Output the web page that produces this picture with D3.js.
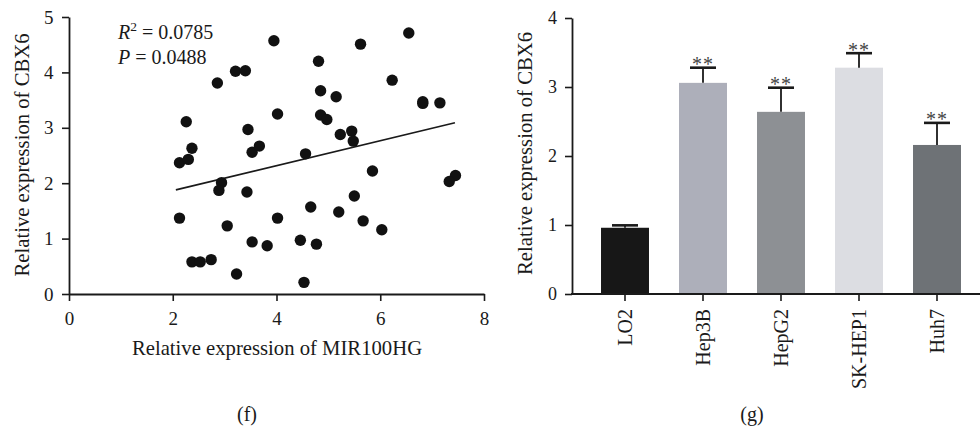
<!DOCTYPE html>
<html>
<head>
<meta charset="utf-8">
<script src="https://cdn.jsdelivr.net/npm/d3@7"></script>
<style>
  body { margin: 0; background: #fff; }
  svg { display: block; font-family: "Liberation Serif", "Times New Roman", serif; }
</style>
</head>
<body>
<svg id="chart" width="980" height="430"></svg>
<script>
// ---------- Data: panel (f) scatter ----------
const scatterX = [2.13, 2.30, 2.37, 2.26, 2.86, 3.21, 3.40, 3.45, 3.53, 3.67,
                  3.95, 4.81, 5.62, 6.55, 6.23, 4.85, 5.15, 6.82, 6.82, 7.15,
                  4.02, 4.85, 4.97, 5.23, 5.45, 5.48, 4.56, 5.85, 2.94, 2.89,
                  3.43, 2.13, 3.05, 3.53, 2.37, 2.53, 2.74, 3.23, 7.45, 7.33,
                  5.50, 4.66, 5.20, 4.02, 5.67, 6.03, 3.82, 4.46, 4.77, 4.53];
const scatterY = [2.37, 2.43, 2.63, 3.11, 3.81, 4.02, 4.03, 2.97, 2.56, 2.67,
                  4.57, 4.20, 4.51, 4.71, 3.86, 3.67, 3.56, 3.47, 3.44, 3.45,
                  3.25, 3.23, 3.15, 2.88, 2.94, 2.76, 2.53, 2.22, 2.01, 1.87,
                  1.84, 1.37, 1.23, 0.94, 0.58, 0.58, 0.62, 0.36, 2.14, 2.03,
                  1.77, 1.57, 1.48, 1.37, 1.32, 1.16, 0.87, 0.97, 0.90, 0.21];
const fitLineX = [2.06, 7.44];
const fitLineY = [1.88, 3.09];
const scatterXTicks = [0, 2, 4, 6, 8];
const scatterYTicks = [0, 1, 2, 3, 4, 5];
const statR2 = "0.0785";
const statP = "0.0488";

// ---------- Data: panel (g) bars ----------
const cells = ["LO2", "Hep3B", "HepG2", "SK-HEP1", "Huh7"];
const cellMeans = [0.96, 3.06, 2.64, 3.28, 2.16];
const cellErrTop = [0.995, 3.28, 2.99, 3.49, 2.48];
const cellSig = ["", "**", "**", "**", "**"];
const cellColors = ["#171717", "#adafba", "#8d9094", "#dcdde2", "#6e7276"];
const barYTicks = [0, 1, 2, 3, 4];

const svg = d3.select("#chart");
const ink = "#1a1a1a";
const labelSize = 20.7;

function styleAxis(g, fs) {
  g.select(".domain").attr("stroke", ink).attr("stroke-width", 1.8);
  g.selectAll(".tick line").attr("stroke", ink).attr("stroke-width", 1.6);
  g.selectAll(".tick text").attr("fill", ink).style("font-size", fs + "px")
    .style("font-family", '"Liberation Serif", "Times New Roman", serif');
}

// ================= Panel (f) =================
const sx = d3.scaleLinear().domain([0, 8]).range([69, 484]);
const sy = d3.scaleLinear().domain([0, 5]).range([294, 17]);

const fx = svg.append("g").attr("transform", "translate(0,294)")
  .call(d3.axisBottom(sx).tickValues(scatterXTicks).tickFormat(d3.format("d"))
    .tickSize(7).tickSizeOuter(0).tickPadding(10.5));
styleAxis(fx, 19);

const fy = svg.append("g").attr("transform", "translate(69,0)")
  .call(d3.axisLeft(sy).tickValues(scatterYTicks).tickFormat(d3.format("d"))
    .tickSize(7).tickSizeOuter(0).tickPadding(8.5));
styleAxis(fy, 19);

svg.append("line")
  .attr("x1", sx(fitLineX[0])).attr("y1", sy(fitLineY[0]))
  .attr("x2", sx(fitLineX[1])).attr("y2", sy(fitLineY[1]))
  .attr("stroke", ink).attr("stroke-width", 1.6);

svg.append("g").selectAll("circle")
  .data(scatterX.map((x, i) => [x, scatterY[i]]))
  .join("circle")
  .attr("cx", d => sx(d[0])).attr("cy", d => sy(d[1]))
  .attr("r", 5.7).attr("fill", "#111");

const r2 = svg.append("text").attr("x", 118).attr("y", 38.5)
  .attr("fill", ink).style("font-size", "20px");
r2.append("tspan").style("font-style", "italic").text("R");
r2.append("tspan").attr("dy", -8).style("font-size", "13.5px").text("2");
r2.append("tspan").attr("dy", 8).text(" = " + statR2);

const pt = svg.append("text").attr("x", 118).attr("y", 64)
  .attr("fill", ink).style("font-size", "20px");
pt.append("tspan").style("font-style", "italic").text("P");
pt.append("tspan").text(" = " + statP);

svg.append("text").attr("x", 277).attr("y", 355).attr("text-anchor", "middle")
  .attr("fill", ink).style("font-size", labelSize + "px")
  .text("Relative expression of MIR100HG");

svg.append("text").attr("transform", "translate(28.5,155) rotate(-90)")
  .attr("text-anchor", "middle").attr("fill", ink)
  .style("font-size", labelSize + "px").text("Relative expression of CBX6");

svg.append("text").attr("x", 247).attr("y", 421).attr("text-anchor", "middle")
  .attr("fill", ink).style("font-size", "20px").text("(f)");

// ================= Panel (g) =================
const bx = d3.scaleBand().domain(cells).range([586, 976])
  .paddingInner(0.385).paddingOuter(0.1925);
const by = d3.scaleLinear().domain([0, 4]).range([294, 18]);

// bars
svg.append("g").selectAll("rect")
  .data(cells.map((c, i) => ({ c, v: cellMeans[i], col: cellColors[i] })))
  .join("rect")
  .attr("x", d => bx(d.c)).attr("width", bx.bandwidth())
  .attr("y", d => by(d.v)).attr("height", d => by(0) - by(d.v))
  .attr("fill", d => d.col);

// error bars
const eb = svg.append("g");
cells.forEach((c, i) => {
  const cx = bx(c) + bx.bandwidth() / 2;
  eb.append("line").attr("x1", cx).attr("x2", cx)
    .attr("y1", by(cellMeans[i])).attr("y2", by(cellErrTop[i]))
    .attr("stroke", ink).attr("stroke-width", 1.8);
  eb.append("line").attr("x1", cx - 13).attr("x2", cx + 13)
    .attr("y1", by(cellErrTop[i])).attr("y2", by(cellErrTop[i]))
    .attr("stroke", ink).attr("stroke-width", 2.6);
  if (cellSig[i]) {
    eb.append("text").attr("x", cx).attr("y", by(cellErrTop[i]) + 3.5)
      .attr("text-anchor", "middle").attr("fill", "#444")
      .attr("letter-spacing", "1px")
      .style("font-size", "20px").text(cellSig[i]);
  }
});

// y axis
const gy = svg.append("g").attr("transform", "translate(572,0)")
  .call(d3.axisLeft(by).tickValues(barYTicks).tickFormat(d3.format("d"))
    .tickSize(7).tickSizeOuter(0).tickPadding(8));
styleAxis(gy, 18);

// x axis line + ticks + rotated labels
svg.append("line").attr("x1", 571).attr("x2", 980).attr("y1", 294).attr("y2", 294)
  .attr("stroke", ink).attr("stroke-width", 1.8);
const gx = svg.append("g");
cells.forEach(c => {
  const cx = bx(c) + bx.bandwidth() / 2;
  gx.append("line").attr("x1", cx).attr("x2", cx).attr("y1", 294).attr("y2", 301)
    .attr("stroke", ink).attr("stroke-width", 1.6);
  gx.append("text").attr("transform", `translate(${cx + 6.5},309) rotate(-90)`)
    .attr("text-anchor", "end").attr("fill", ink)
    .style("font-size", "20px").text(c);
});

svg.append("text").attr("transform", "translate(531.5,153.5) rotate(-90)")
  .attr("text-anchor", "middle").attr("fill", ink)
  .style("font-size", labelSize + "px").text("Relative expression of CBX6");

svg.append("text").attr("x", 752).attr("y", 421).attr("text-anchor", "middle")
  .attr("fill", ink).style("font-size", "20px").text("(g)");
</script>
</body>
</html>
